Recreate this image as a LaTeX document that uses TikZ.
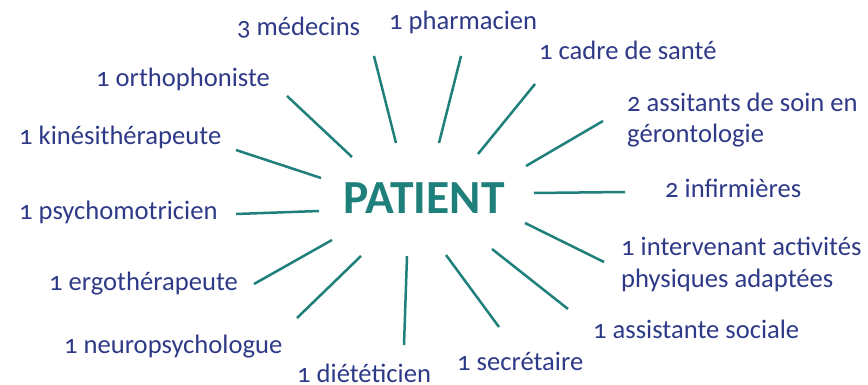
\documentclass[tikz,border=0pt]{standalone}
\usepackage{fontspec}
\setmainfont{Carlito}[Numbers=OldStyle]
\definecolor{labelblue}{HTML}{2E3A87}
\definecolor{spoketeal}{HTML}{1F7F7B}

\begin{document}
\begin{tikzpicture}[x=1pt, y=-1pt,
    lbl/.style={anchor=base west, inner sep=0pt, text=labelblue,
      font=\fontsize{26.6}{32}\selectfont, align=left},
    spoke/.style={spoketeal, line width=2.5pt}]

        \useasboundingbox (0,0) rectangle (868,385);

        % centre
        \node [anchor=base west, inner sep=0pt, text=spoketeal,
          font=\bfseries\fontsize{47.5}{50}\selectfont] (patient) at (343,214) {PATIENT};

        % labels (multi-line ones are placed by their last line)
        \node [lbl] (medecins)     at (237,36)  {3 médecins};
        \node [lbl] (pharmacien)   at (389,30)  {1 pharmacien};
        \node [lbl] (cadre)        at (539,60)  {1 cadre de santé};
        \node [lbl] (assistants)   at (627,143) {2 assitants de soin en\\gérontologie};
        \node [lbl] (infirmieres)  at (665,197) {2 infirmières};
        \node [lbl] (apa)          at (621,287) {1 intervenant activités\\physiques adaptées};
        \node [lbl] (sociale)      at (593,338) {1 assistante sociale};
        \node [lbl] (secretaire)   at (457,370) {1 secrétaire};
        \node [lbl] (dieteticien)  at (297,382) {1 diététicien};
        \node [lbl] (neuropsy)     at (64,353)  {1 neuropsychologue};
        \node [lbl] (ergo)         at (49,290)  {1 ergothérapeute};
        \node [lbl] (psychomot)    at (19,219)  {1 psychomotricien};
        \node [lbl] (kine)         at (19,145)  {1 kinésithérapeute};
        \node [lbl] (ortho)        at (96,87)   {1 orthophoniste};

        % spokes
        \foreach \n/\ax/\ay/\bx/\by in {medecins/396/143/374/56, pharmacien/439/143/461/56,
            cadre/478/154/535/84, assistants/526/166/603/121, infirmieres/534/193/625/192,
            apa/525/223/604/262, sociale/492/249/568/309, secretaire/446/255/499/327,
            dieteticien/407/256/404/345, neuropsy/361/256/297/318, ergo/332/240/254/284,
            psychomot/319/211/236/214, kine/321/178/236/150, ortho/352/157/287/96} {
          \coordinate (\n-in) at (\ax,\ay);
          \coordinate (\n-out) at (\bx,\by);
          \draw [spoke] (\n-in) -- (\n-out);
        }
\end{tikzpicture}
\end{document}
